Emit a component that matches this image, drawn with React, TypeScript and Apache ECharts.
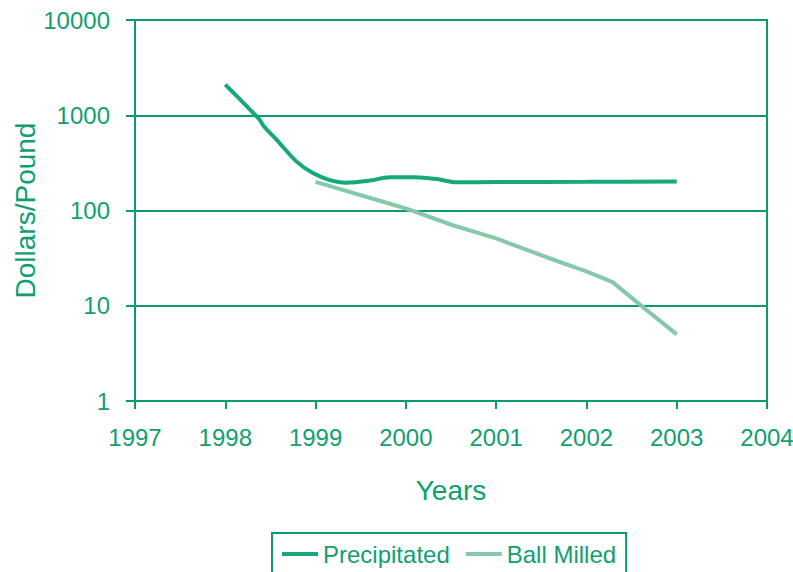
import React, { useEffect, useRef } from "react";
import * as echarts from "echarts";

const seriesNames = ["Precipitated", "Ball Milled"];
const precipitated: [number, number][] = [
  [1998, 2100], [1998.38, 900], [1998.42, 780], [1998.57, 550], [1998.79, 326],
  [1998.97, 247], [1999.15, 210], [1999.34, 196], [1999.6, 206], [1999.82, 223],
  [2000.1, 224], [2000.34, 214], [2000.56, 198], [2001, 199], [2002, 200], [2003, 202],
];
const ballMilled: [number, number][] = [
  [1999, 200], [2000, 105], [2000.52, 70], [2001, 51], [2001.55, 32.5],
  [2002, 23], [2002.29, 17.7], [2002.66, 9.1], [2003, 5],
];
const xMin = 1997;
const xMax = 2004;
const yMin = 1;
const yMax = 10000;

const AXIS = "#0c9c6c";
const TEXT = "#10a070";
const C1 = "#14a87c";
const C2 = "#85c9aa";
const FONT = "Liberation Sans, Arial, sans-serif";

export default function App() {
  const ref = useRef<HTMLDivElement>(null);
  useEffect(() => {
    if (!ref.current) return;
    const chart = echarts.init(ref.current, null, { renderer: "svg" });
    chart.setOption({
      animation: false,
      backgroundColor: "#ffffff",
      textStyle: { fontFamily: FONT },
      grid: {
        left: 135, right: 26, top: 20, bottom: 171,
        containLabel: false, outerBoundsMode: "none",
        show: true, borderColor: AXIS, borderWidth: 2, backgroundColor: "transparent",
      },
      legend: {
        left: 272, top: 533,
        padding: [9, 10, 14, 10],
        borderColor: AXIS, borderWidth: 2, borderRadius: 0,
        itemWidth: 36, itemHeight: 4, itemGap: 16,
        icon: "rect",
        textStyle: { color: TEXT, fontSize: 24, fontFamily: FONT },
        data: seriesNames,
      },
      xAxis: {
        type: "value", min: xMin, max: xMax, interval: 1,
        name: "Years", nameLocation: "middle", nameGap: 75, nameMoveOverlap: false,
        nameTextStyle: { color: TEXT, fontSize: 28, fontFamily: FONT },
        axisLine: { lineStyle: { color: AXIS, width: 2 } },
        axisTick: { show: true, length: 8, lineStyle: { color: AXIS, width: 2 } },
        axisLabel: { color: TEXT, fontSize: 24, margin: 24, fontFamily: FONT, formatter: (v: number) => String(v) },
        splitLine: { show: false },
      },
      yAxis: {
        type: "log", logBase: 10, min: yMin, max: yMax,
        name: "Dollars/Pound", nameLocation: "middle", nameGap: 96, nameRotate: 90, nameMoveOverlap: false,
        nameTextStyle: { color: TEXT, fontSize: 28, fontFamily: FONT },
        axisLine: { show: true, lineStyle: { color: AXIS, width: 2 } },
        axisTick: { show: true, length: 9, lineStyle: { color: AXIS, width: 2 } },
        axisLabel: { color: TEXT, fontSize: 24, margin: 25, fontFamily: FONT, formatter: (v: number) => String(Math.round(v)) },
        splitLine: { show: true, lineStyle: { color: AXIS, width: 2 } },
        minorTick: { show: false },
      },
      series: [
        {
          name: seriesNames[0], type: "line", data: precipitated, smooth: 0.3,
          symbol: "none", lineStyle: { color: C1, width: 4 }, itemStyle: { color: C1 },
        },
        {
          name: seriesNames[1], type: "line", data: ballMilled, smooth: false,
          symbol: "none", lineStyle: { color: C2, width: 4 }, itemStyle: { color: C2 },
        },
      ],
    });
    return () => chart.dispose();
  }, []);
  return <div ref={ref} style={{ width: 793, height: 572, position: "absolute", left: 0, top: 0 }} />;
}
